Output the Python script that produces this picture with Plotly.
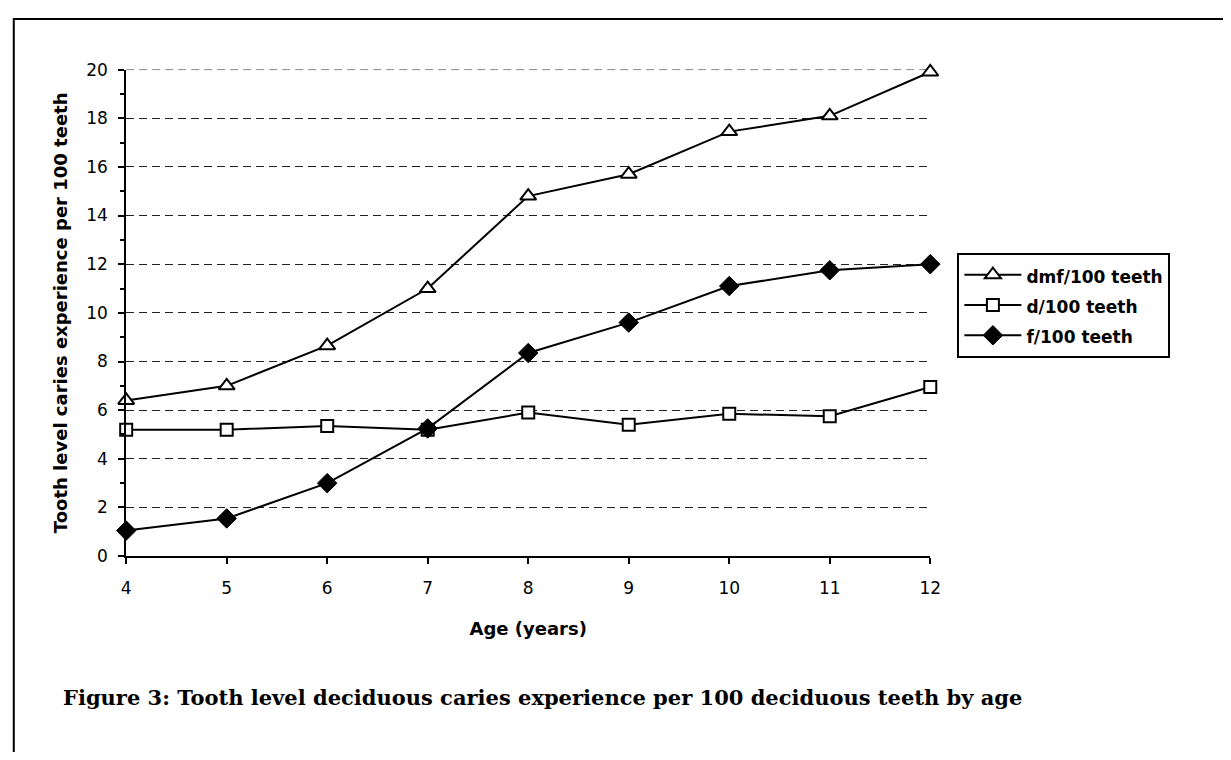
import plotly.graph_objects as go

ages = [4, 5, 6, 7, 8, 9, 10, 11, 12]
dmf = [6.4, 7.0, 8.65, 11.0, 14.8, 15.7, 17.45, 18.1, 19.9]
d_vals = [5.2, 5.2, 5.35, 5.2, 5.9, 5.4, 5.85, 5.75, 6.95]
f_vals = [1.05, 1.55, 3.0, 5.25, 8.35, 9.6, 11.1, 11.75, 12.0]
series_names = ["dmf/100 teeth", "d/100 teeth", "f/100 teeth"]
x_title = "Age (years)"
y_title = "Tooth level caries experience per 100 teeth"
caption = "Figure 3: Tooth level deciduous caries experience per 100 deciduous teeth by age"

# The page keeps the browser's default 8px body margin, so the figure is
# 16px smaller than the 1231x760 window and all positions are shifted by 8px.
W, H = 1215, 744
OFF = 8


def px_x(v):
    return (v - OFF) / W


def px_y(v):
    return 1 - (v - OFF) / H


def legend_label(s):
    return "<span style='font-size:17px'>" + s + "</span>"


fig = go.Figure()
common_line = dict(color="black", width=2)
fig.add_trace(go.Scatter(x=ages, y=dmf, name=legend_label(series_names[0]), mode="lines+markers",
                         line=common_line, cliponaxis=False,
                         marker=dict(symbol="triangle-up", size=14, color="white",
                                     line=dict(color="black", width=2))))
fig.add_trace(go.Scatter(x=ages, y=d_vals, name=legend_label(series_names[1]), mode="lines+markers",
                         line=common_line, cliponaxis=False,
                         marker=dict(symbol="square", size=12, color="white",
                                     line=dict(color="black", width=2))))
fig.add_trace(go.Scatter(x=ages, y=f_vals, name=legend_label(series_names[2]), mode="lines+markers",
                         line=common_line, cliponaxis=False,
                         marker=dict(symbol="diamond", size=15, color="black",
                                     line=dict(color="black", width=1))))

title_font = dict(family="DejaVu Sans, sans-serif", size=18, weight="bold", color="black")
grid_dash = "8px,5px"
grid_color = "#222222"

fig.update_layout(
    width=W, height=H,
    margin=dict(l=0, r=0, t=0, b=0),
    paper_bgcolor="white", plot_bgcolor="white",
    font=dict(family="DejaVu Sans, sans-serif", size=17, color="black"),
    showlegend=True,
    legend=dict(x=px_x(965), y=px_y(249), xanchor="left", yanchor="top",
                bordercolor="black", borderwidth=2, bgcolor="white",
                font=dict(family="DejaVu Sans, sans-serif", size=21, weight="bold", color="black"),
                tracegroupgap=0, itemwidth=57),
    xaxis=dict(domain=[px_x(122.7), px_x(937.5)], range=[4, 12], dtick=1, tick0=4,
               showline=True, linecolor="black", linewidth=2,
               ticks="outside", ticklen=6, tickwidth=2, tickcolor="black",
               ticklabelstandoff=9,
               showgrid=False, zeroline=False,
               tickfont=dict(size=17),
               title=dict(text=x_title, font=title_font, standoff=26)),
    yaxis=dict(domain=[px_y(561), px_y(61)], range=[0, 20], dtick=2, tick0=0,
               showline=True, linecolor="black", linewidth=2,
               ticks="outside", ticklen=6, tickwidth=2, tickcolor="black",
               ticklabelstandoff=7,
               showgrid=True, gridcolor=grid_color, gridwidth=1, griddash=grid_dash,
               zeroline=False,
               minor=dict(ticks="outside", dtick=1, ticklen=4, tickwidth=2,
                          tickcolor="black", showgrid=False),
               tickfont=dict(size=17),
               title=dict(text=y_title, font=title_font, standoff=14)),
    shapes=[
        dict(type="rect", xref="paper", yref="paper",
             x0=px_x(8.8), x1=1.05, y0=-0.05, y1=px_y(9),
             line=dict(color="black", width=2), fillcolor="rgba(0,0,0,0)", layer="below"),
        dict(type="line", xref="x domain", yref="y", x0=0, x1=1, y0=20, y1=20,
             line=dict(color=grid_color, width=1, dash=grid_dash), layer="below"),
    ],
    annotations=[dict(text=caption, xref="paper", yref="paper",
                      x=px_x(57), y=px_y(706), xanchor="left", yanchor="middle",
                      showarrow=False,
                      font=dict(family="DejaVu Serif, serif", size=21, weight="bold", color="black"))],
)

fig.write_html("out.html", config={"displayModeBar": False})
